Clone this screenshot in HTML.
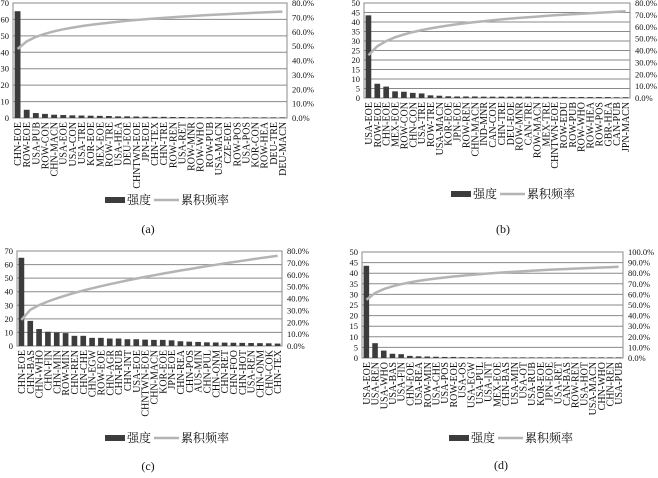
<!DOCTYPE html>
<html><head><meta charset="utf-8"><style>
html,body{margin:0;padding:0;background:#fff;}
svg text{font-family:"Liberation Serif","Noto Serif CJK SC",serif;fill:#111;}
</style></head><body>
<svg id="s" width="658" height="473" viewBox="0 0 658 473" xmlns="http://www.w3.org/2000/svg"></svg>
<script>
var S=document.getElementById('s'),NS='http://www.w3.org/2000/svg';
function el(t,a,txt){var e=document.createElementNS(NS,t);for(var k in a)e.setAttribute(k,a[k]);if(txt!=null)e.textContent=txt;S.appendChild(e);return e;}
var charts=[
{L:13,R:287,T:3,B:118,max:70,step:10,rmax:80,rstep:10,ly:200,lx:105,cx:148,cy:229,cap:'(a)',
 labels:['CHN-EOE','ROW-EOE','USA-PUB','ROW-CON','CHN-MACN','USA-EOE','USA-CON','USA-TRE','KOR-EOE','MEX-EOE','ROW-TRE','USA-HEA','DEU-EOE','CHNTWN-EOE','JPN-EOE','CHN-TEX','CHN-TRE','ROW-REN','USA-RET','ROW-MNR','ROW-WHO','ROW-PUB','USA-MACN','CZE-EOE','ROW-POS','USA-POS','KOR-CON','ROW-HEA','DEU-TRE','DEU-MACN'],
 vals:[65,5,3,2.5,2,1.8,1.6,1.5,1.4,1.3,1.2,1,1,0.9,0.8,0.7,0.7,0.6,0.6,0.5,0.5,0.5,0.5,0.4,0.4,0.4,0.4,0.4,0.4,0.4],c0:48,c1:74,p:1},
{L:364,R:630,T:3,B:98,max:50,step:5,rmax:80,rstep:10,ly:194,lx:451,cx:503,cy:229,cap:'(b)',
 labels:['USA-EOE','ROW-EOE','CHN-EOE','MEX-EOE','ROW-CON','CHN-CON','USA-TRE','ROW-TRE','USA-MACN','KOR-EOE','JPN-EOE','ROW-REN','CHN-MACN','IND-MNR','CAN-CON','CHN-TRE','DEU-EOE','ROW-MNR','CAN-TRE','ROW-MACN','MEX-TRE','CHNTWN-EOE','ROW-EDU','ROW-PUB','ROW-WHO','ROW-HEA','ROW-POS','GBR-HEA','CAN-PUB','JPN-MACN'],
 vals:[43.5,7.5,6,3.5,3.3,2.7,2.4,1.4,1.2,0.9,0.8,0.8,0.8,0.7,0.7,0.7,0.7,0.7,0.7,0.6,0.6,0.6,0.5,0.5,0.5,0.5,0.5,0.5,0.4,0.4],c0:36,c1:73,p:1},
{L:17,R:282,T:251,B:346,max:70,step:10,rmax:80,rstep:10,ly:438,lx:105,cx:148,cy:466,cap:'(c)',
 labels:['CHN-EOE','CHN-BAS','CHN-WHO','CHN-FIN','CHN-MIN','ROW-MIN','CHN-REN','CHN-CHE','CHN-EGW','ROW-EOE','CHN-AGR','CHN-RUB','CHN-INT','USA-EOE','CHNTWN-EOE','CHN-MACN','KOR-EOE','JPN-EOE','CHN-REA','CHN-POS','AUS-MIN','CHN-PUL','CHN-ONM','CHN-RET','CHN-FOO','CHN-HOT','USA-REN','CHN-ONM','CHN-COK','CHN-TEX'],
 vals:[65,18.5,12.5,10.5,10,9.5,7.5,7.5,6,6,5.5,5.5,5,5,4.7,4.5,4.5,4.2,3.5,3.2,3,2.7,2.6,2.5,2.4,2.3,2.2,2.1,2,1.8],c0:22,c1:76,p:2},
{L:362,R:623,T:252,B:358,max:50,step:5,rmax:100,rstep:10,ly:438,lx:449,cx:501,cy:465,cap:'(d)',
 labels:['USA-EOE','USA-REN','USA-WHO','USA-BAS','USA-FIN','CHN-EOE','USA-REA','ROW-MIN','USA-CHE','USA-POS','ROW-EOE','USA-OS','USA-EGW','USA-PUL','USA-INT','MEX-EOE','CHN-BAS','USA-MIN','USA-OT','USA-RUB','KOR-EOE','JPN-EOE','USA-RET','CAN-BAS','ROW-REN','USA-HOT','USA-MACN','CHN-WHO','CHN-REN','USA-PUB'],
 vals:[43.5,7,3.5,2,1.8,1,0.8,0.7,0.6,0.5,0.5,0.4,0.4,0.4,0.3,0.3,0.3,0.3,0.3,0.3,0.3,0.3,0.3,0.3,0.3,0.3,0.3,0.3,0.3,0.3],c0:55,c1:86,p:1}
];
charts.forEach(function(c){
 var H=c.B-c.T,W=c.R-c.L,n=30,cw=W/n;
 for(var v=0;v<=c.max;v+=c.step){var y=c.B-v/c.max*H;
  el('line',{x1:c.L,x2:c.R,y1:y,y2:y,stroke:'#8a8a8a','stroke-width':1});
  el('text',{x:c.L-4,y:y+3,'font-size':8.5,'text-anchor':'end'},String(v));}
 for(var r=0;r<=c.rmax;r+=c.rstep){var y=c.B-r/c.rmax*H;
  el('text',{x:c.R+5,y:y+3,'font-size':8.5},r.toFixed(1)+'%');}
 el('rect',{x:c.L,y:c.T,width:W,height:H,fill:'none',stroke:'#8a8a8a','stroke-width':1});
 var pts=[];
 for(var i=0;i<n;i++){var x=c.L+i*cw,h=c.vals[i]/c.max*H;
  el('rect',{x:x+cw*0.18,y:c.B-h,width:cw*0.64,height:h,fill:'#3c3c3c'});
  var f=c.p==1?Math.log(1+i)/Math.log(30):Math.pow(i/29,0.55);
  var cv=c.c0+(c.c1-c.c0)*f;pts.push((x+cw/2).toFixed(1)+','+(c.B-cv/c.rmax*H).toFixed(1));
  var tx=x+cw/2+3.5;el('text',{x:tx,y:c.B+4,'font-size':10,'text-anchor':'end',transform:'rotate(-90 '+tx+' '+(c.B+4)+')'},c.labels[i]);}
 el('polyline',{points:pts.join(' '),fill:'none',stroke:'#b4b4b4','stroke-width':2.5});
 el('rect',{x:c.lx,y:c.ly-3,width:20,height:6,fill:'#3c3c3c'});
 el('text',{x:c.lx+22,y:c.ly+4,'font-size':12},'强度');
 el('line',{x1:c.lx+49,x2:c.lx+74,y1:c.ly,y2:c.ly,stroke:'#b4b4b4','stroke-width':2.5});
 el('text',{x:c.lx+76,y:c.ly+4,'font-size':12},'累积频率');
 el('text',{x:c.cx,y:c.cy+4,'font-size':12,'text-anchor':'middle'},c.cap);
});
</script>
</body></html>
